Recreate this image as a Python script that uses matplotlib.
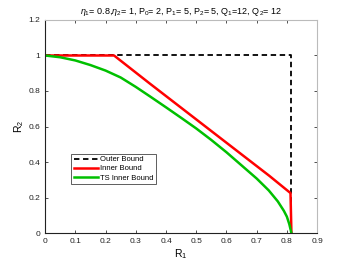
import numpy as np
import matplotlib
matplotlib.use('Agg')
import matplotlib.pyplot as plt
from matplotlib.ticker import FuncFormatter

plt.rcParams['font.family'] = ['Liberation Sans', 'DejaVu Sans']
plt.rcParams['mathtext.fontset'] = 'custom'
plt.rcParams['mathtext.rm'] = 'Liberation Sans'
plt.rcParams['mathtext.it'] = 'Liberation Sans:italic'

# outer bound
outer_r1 = [0, 0.815, 0.815]
outer_r2 = [1.0, 1.0, 0.0]

# inner bound
inner_r1 = [0, 0.228, 0.344, 0.742, 0.812, 0.815]
inner_r2 = [1.0, 1.0, 0.845, 0.322, 0.225, 0.0]

# TS inner bound
ts_r1 = [0, 0.05, 0.10, 0.15, 0.20, 0.25, 0.30, 0.35, 0.40, 0.45, 0.50, 0.55,
         0.60, 0.65, 0.70, 0.74, 0.77, 0.79, 0.80, 0.808, 0.815]
ts_r2 = [1.0, 0.99, 0.972, 0.946, 0.915, 0.876, 0.823, 0.766, 0.708, 0.649, 0.589,
         0.524, 0.455, 0.381, 0.307, 0.24, 0.178, 0.125, 0.092, 0.05, 0.0]

xticks = np.arange(0, 0.91, 0.1)
yticks = np.arange(0, 1.21, 0.2)

fig = plt.figure(figsize=(3.5, 2.63), dpi=100)
ax = fig.add_axes([0.129, 0.114, 0.777, 0.81])

ax.plot(outer_r1, outer_r2, 'k--', lw=1.3, label='Outer Bound', dashes=(3, 2))
ax.plot(inner_r1, inner_r2, color='#ff0000', lw=1.8, label='Inner Bound')
ax.plot(ts_r1, ts_r2, color='#00c000', lw=1.8, label='TS Inner Bound')

ax.set_xlim(0, 0.9)
ax.set_ylim(0, 1.2)
ax.set_xticks(xticks)
ax.set_yticks(yticks)
fmt = FuncFormatter(lambda v, p: f'{v:.1f}'.rstrip('0').rstrip('.') if v != 0 else '0')
ax.xaxis.set_major_formatter(fmt)
ax.yaxis.set_major_formatter(fmt)
ax.tick_params(direction='in', length=2.5, labelsize=6, width=0.6, top=True, right=True,
               colors='#333333', labelcolor='#222222')
for side in ['top', 'right']:
    ax.spines[side].set_color('#bbbbbb')
for side in ['left', 'bottom']:
    ax.spines[side].set_color('#222222')
for s in ax.spines.values():
    s.set_linewidth(0.8)

ax.set_xlabel('R$_1$', fontsize=7.5, labelpad=2)
ax.set_ylabel('R$_2$', fontsize=7.5, labelpad=2)
ax.set_title(r'$\eta_1$= 0.8,$\eta_2$= 1, P$_0$= 2, P$_1$= 5, P$_2$= 5, Q$_1$=12, Q$_2$= 12',
             fontsize=6.5, pad=4)

leg = ax.legend(loc='lower left', bbox_to_anchor=(0.096, 0.23), fontsize=5.5,
                fancybox=False, edgecolor='#444444', handlelength=3.2,
                handletextpad=0.3, borderpad=0.3, labelspacing=0.25,
                borderaxespad=0, framealpha=1)
leg.get_frame().set_linewidth(0.6)

fig.savefig('out.png', dpi=100)
